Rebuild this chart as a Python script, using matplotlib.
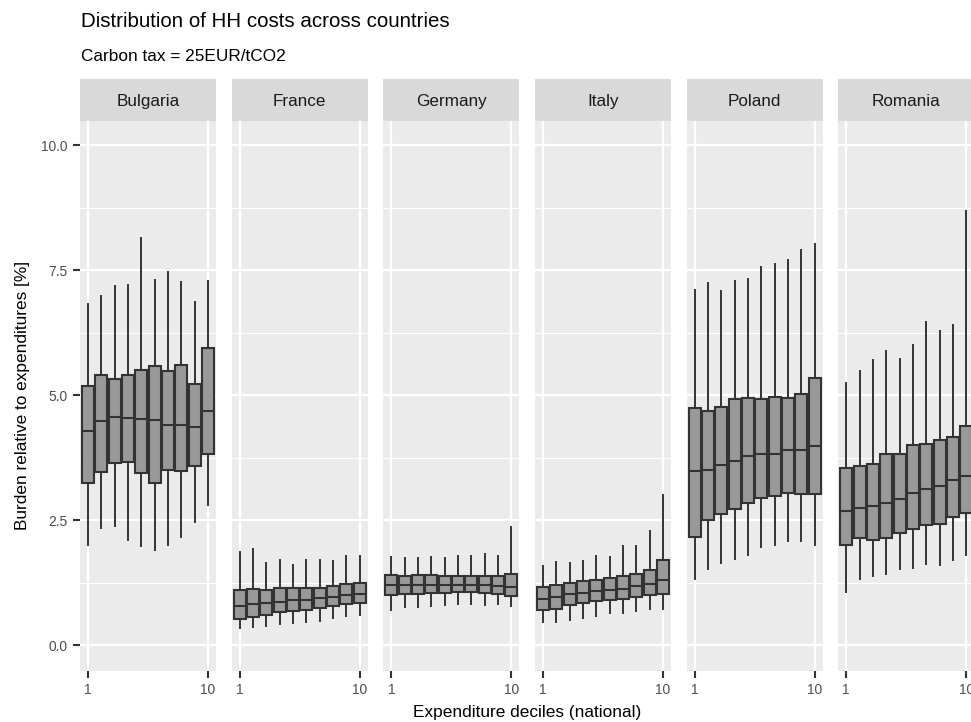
import matplotlib
matplotlib.use('Agg')
from matplotlib import pyplot as plt
from matplotlib.patches import Rectangle
from matplotlib.ticker import FixedLocator

COUNTRIES = ['Bulgaria', 'France', 'Germany', 'Italy', 'Poland', 'Romania']
DECILES = list(range(1, 11))
X_TICKS = [1, 10]
Y_TICKS = [0.0, 2.5, 5.0, 7.5, 10.0]
Y_MINOR = [1.25, 3.75, 6.25, 8.75]

# box statistics per country, decile 1..10
WHISKER_LOW = {
    'Bulgaria': [2.00, 2.34, 2.39, 2.10, 1.98, 1.90, 2.01, 2.17, 2.47, 2.80],
    'France':   [0.34, 0.36, 0.39, 0.43, 0.44, 0.47, 0.48, 0.55, 0.58, 0.60],
    'Germany':  [0.71, 0.77, 0.77, 0.79, 0.80, 0.82, 0.82, 0.81, 0.82, 0.79],
    'Italy':    [0.47, 0.47, 0.50, 0.55, 0.59, 0.65, 0.65, 0.69, 0.72, 0.73],
    'Poland':   [1.33, 1.53, 1.65, 1.73, 1.81, 1.96, 2.00, 2.09, 2.08, 2.00],
    'Romania':  [1.07, 1.33, 1.39, 1.43, 1.52, 1.55, 1.63, 1.61, 1.71, 1.80],
}
Q1 = {
    'Bulgaria': [3.24, 3.46, 3.64, 3.66, 3.44, 3.24, 3.51, 3.48, 3.59, 3.82],
    'France':   [0.53, 0.57, 0.61, 0.66, 0.68, 0.71, 0.74, 0.78, 0.82, 0.84],
    'Germany':  [1.00, 1.03, 1.03, 1.04, 1.04, 1.06, 1.06, 1.05, 1.03, 0.98],
    'Italy':    [0.71, 0.73, 0.81, 0.84, 0.88, 0.91, 0.92, 0.97, 1.01, 1.03],
    'Poland':   [2.17, 2.51, 2.62, 2.73, 2.84, 2.95, 2.99, 3.05, 3.03, 3.02],
    'Romania':  [2.00, 2.15, 2.10, 2.15, 2.25, 2.33, 2.41, 2.43, 2.57, 2.64],
}
MEDIAN = {
    'Bulgaria': [4.29, 4.48, 4.57, 4.55, 4.53, 4.51, 4.41, 4.41, 4.36, 4.68],
    'France':   [0.78, 0.83, 0.84, 0.86, 0.90, 0.91, 0.95, 0.97, 1.01, 1.03],
    'Germany':  [1.20, 1.20, 1.20, 1.21, 1.20, 1.21, 1.21, 1.21, 1.19, 1.16],
    'Italy':    [0.92, 0.96, 1.03, 1.05, 1.08, 1.11, 1.12, 1.19, 1.23, 1.31],
    'Poland':   [3.48, 3.51, 3.61, 3.69, 3.79, 3.83, 3.83, 3.91, 3.90, 3.99],
    'Romania':  [2.69, 2.75, 2.78, 2.85, 2.92, 3.05, 3.13, 3.18, 3.30, 3.39],
}
Q3 = {
    'Bulgaria': [5.19, 5.41, 5.32, 5.40, 5.51, 5.58, 5.49, 5.61, 5.22, 5.94],
    'France':   [1.10, 1.13, 1.10, 1.15, 1.14, 1.15, 1.14, 1.18, 1.23, 1.25],
    'Germany':  [1.40, 1.39, 1.40, 1.40, 1.39, 1.39, 1.39, 1.39, 1.39, 1.42],
    'Italy':    [1.17, 1.21, 1.25, 1.28, 1.31, 1.34, 1.38, 1.42, 1.51, 1.71],
    'Poland':   [4.75, 4.69, 4.77, 4.92, 4.95, 4.93, 4.96, 4.95, 5.02, 5.35],
    'Romania':  [3.55, 3.59, 3.63, 3.83, 3.83, 4.00, 4.02, 4.11, 4.17, 4.39],
}
WHISKER_HIGH = {
    'Bulgaria': [6.82, 6.98, 7.18, 7.21, 8.14, 7.30, 7.47, 7.27, 6.86, 7.28],
    'France':   [1.86, 1.93, 1.64, 1.71, 1.61, 1.70, 1.71, 1.68, 1.79, 1.79],
    'Germany':  [1.77, 1.74, 1.75, 1.76, 1.74, 1.78, 1.79, 1.82, 1.79, 2.36],
    'Italy':    [1.59, 1.67, 1.65, 1.69, 1.78, 1.77, 1.98, 1.99, 2.29, 3.01],
    'Poland':   [7.11, 7.25, 7.08, 7.28, 7.33, 7.57, 7.63, 7.71, 7.90, 8.03],
    'Romania':  [5.25, 5.48, 5.71, 5.89, 5.72, 6.01, 6.47, 6.29, 6.41, 8.69],
}

W, H = 971, 722
PANEL_LEFT, PANEL_W, PANEL_STEP = 80, 136, 151.64
PANEL_TOP, PANEL_BOTTOM, STRIP_TOP = 121, 670.7, 79

plt.rcParams['font.family'] = ['Liberation Sans', 'DejaVu Sans']

fig = plt.figure(figsize=(W / 100, H / 100), dpi=100)

for i, country in enumerate(COUNTRIES):
    left = PANEL_LEFT + i * PANEL_STEP
    ax = fig.add_axes([left / W, 1 - PANEL_BOTTOM / H, PANEL_W / W, (PANEL_BOTTOM - PANEL_TOP) / H])
    ax.set_facecolor('#EBEBEB')
    for side in ax.spines.values():
        side.set_visible(False)

    stats = [dict(whislo=lo, q1=a, med=m, q3=b, whishi=hi)
             for lo, a, m, b, hi in zip(WHISKER_LOW[country], Q1[country], MEDIAN[country],
                                        Q3[country], WHISKER_HIGH[country])]
    ax.bxp(stats, positions=DECILES, widths=0.9, patch_artist=True, showfliers=False, showcaps=False,
           boxprops=dict(facecolor='#999999', edgecolor='#333333', linewidth=1.5),
           medianprops=dict(color='#333333', linewidth=1.5),
           whiskerprops=dict(color='#333333', linewidth=1.4))

    ax.set_xlim(0.4, 10.6)
    ax.set_ylim(-0.51, 10.49)
    ax.set_xticks(X_TICKS)
    ax.set_xticklabels([str(t) for t in X_TICKS])
    ax.set_yticks(Y_TICKS)
    ax.yaxis.set_minor_locator(FixedLocator(Y_MINOR))
    ax.set_axisbelow(True)
    ax.grid(which='major', color='white', linewidth=1.6)
    ax.grid(which='minor', axis='y', color='white', linewidth=0.8)
    ax.tick_params(which='major', length=5.2, width=1.5, color='#333333', labelcolor='#4D4D4D',
                   labelsize=9.9, pad=4)
    ax.tick_params(which='minor', length=0)
    if i == 0:
        ax.set_yticklabels([f'{t:.1f}' for t in Y_TICKS])
    else:
        ax.tick_params(axis='y', which='major', length=0, labelleft=False)

    strip_h = (PANEL_TOP - STRIP_TOP) / (PANEL_BOTTOM - PANEL_TOP)
    ax.add_patch(Rectangle((0, 1), 1, strip_h, transform=ax.transAxes, facecolor='#D9D9D9',
                           edgecolor='none', clip_on=False))
    ax.text(0.5, 1 + strip_h / 2, country, transform=ax.transAxes, ha='center',
            va='center_baseline', fontsize=12.3, color='#1A1A1A')

fig.text(80.7 / W, 1 - 26.7 / H, 'Distribution of HH costs across countries', fontsize=14.8,
         ha='left', va='baseline')
fig.text(80.7 / W, 1 - 60.7 / H, 'Carbon tax = 25EUR/tCO2', fontsize=12.4, ha='left', va='baseline')
fig.text((PANEL_LEFT + 5 * PANEL_STEP + PANEL_W + PANEL_LEFT) / 2 / W, 1 - 717 / H,
         'Expenditure deciles (national)', fontsize=12.4, ha='center', va='baseline')
fig.text(23 / W, 1 - (PANEL_TOP + PANEL_BOTTOM) / 2 / H, 'Burden relative to expenditures [%]',
         fontsize=12.4, rotation=90, ha='center', va='center')

fig.savefig('out.png', dpi=100)
